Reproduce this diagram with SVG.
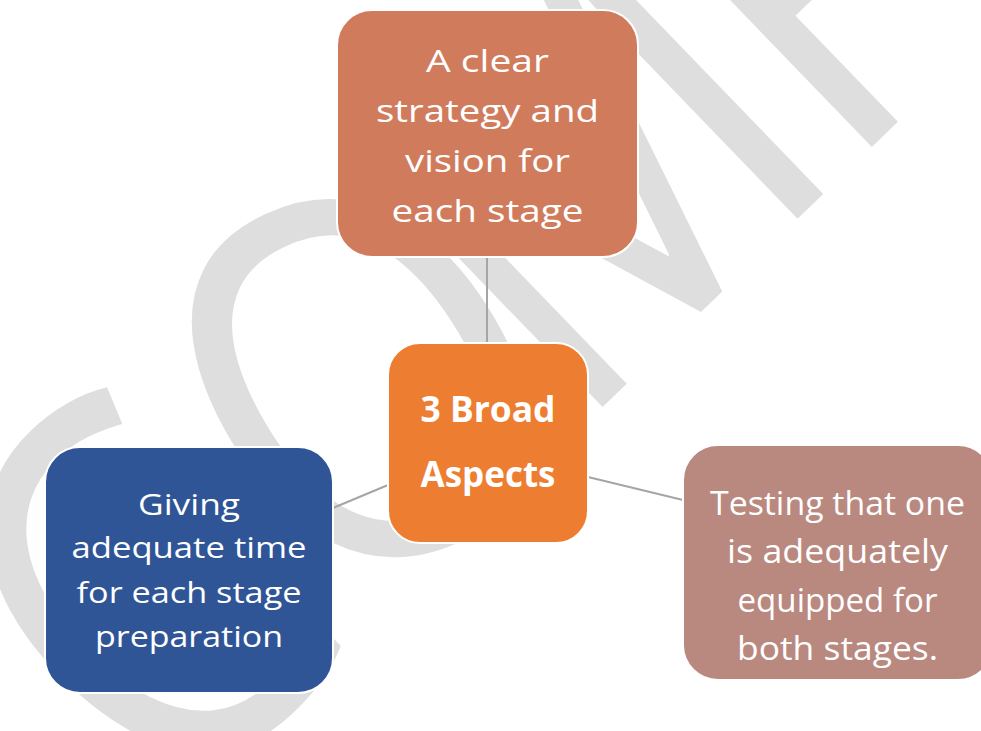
<svg xmlns="http://www.w3.org/2000/svg" width="981" height="731" viewBox="0 0 981 731">
<style>
.wm{font-family:"Open Sans","Noto Sans",sans-serif;font-size:525px;fill:#DEDEDE}
.box{stroke:#FFFFFF;stroke-width:2}
.t{font-family:"Open Sans","Noto Sans",sans-serif;fill:#FFFFFF;text-anchor:middle}
.t31{font-size:31px}
.t30{font-size:30px}
.t32{font-size:32px}
.tb{font-size:35px;font-weight:bold}
.conn line{stroke:#A5A5A5;stroke-width:2}
</style>
<rect width="981" height="731" fill="#FFFFFF"/>
<g id="watermark" transform="translate(615 395) rotate(-44) scale(0.83 1)">
<text class="wm" x="-583" y="0" text-anchor="middle">C</text>
<text class="wm" x="-205" y="0" text-anchor="middle" transform="rotate(16 -205 -188)">O</text>
<text class="wm" x="164" y="0" text-anchor="middle">M</text>
<text class="wm" x="379" y="0">P</text>
</g>
<g id="connectors" class="conn">
<line x1="487" y1="257" x2="487" y2="343"/>
<line x1="388" y1="485" x2="333" y2="508"/>
<line x1="588" y1="477" x2="683" y2="500"/>
</g>
<g id="node-strategy">
<rect class="box" x="337" y="10" width="301" height="247" rx="35" fill="#D17B5D"/>
<text class="t t31" x="487.5" y="71.7" textLength="123" lengthAdjust="spacingAndGlyphs">A clear</text>
<text class="t t31" x="487.5" y="121.7" textLength="223" lengthAdjust="spacingAndGlyphs">strategy and</text>
<text class="t t31" x="487.5" y="171.7" textLength="165" lengthAdjust="spacingAndGlyphs">vision for</text>
<text class="t t31" x="487.5" y="221.7" textLength="192" lengthAdjust="spacingAndGlyphs">each stage</text>
</g>
<g id="node-center">
<rect class="box" x="388" y="343" width="200" height="200" rx="32" fill="#ED7D31"/>
<text class="t tb" x="488" y="421.7" textLength="135" lengthAdjust="spacingAndGlyphs">3 Broad</text>
<text class="t tb" x="488" y="486.7" textLength="135" lengthAdjust="spacingAndGlyphs">Aspects</text>
</g>
<g id="node-time">
<rect class="box" x="45" y="447" width="288" height="246" rx="35" fill="#2F5597"/>
<text class="t t30" x="189" y="515" textLength="102" lengthAdjust="spacingAndGlyphs">Giving</text>
<text class="t t30" x="189" y="558.3" textLength="235" lengthAdjust="spacingAndGlyphs">adequate time</text>
<text class="t t30" x="189" y="603.3" textLength="225" lengthAdjust="spacingAndGlyphs">for each stage</text>
<text class="t t30" x="189" y="646.7" textLength="188" lengthAdjust="spacingAndGlyphs">preparation</text>
</g>
<g id="node-testing">
<rect class="box" x="683" y="445" width="310" height="235" rx="35" fill="#B9887F"/>
<text class="t t32" x="837.5" y="515" textLength="255" lengthAdjust="spacingAndGlyphs">Testing that one</text>
<text class="t t32" x="837.5" y="563.3" textLength="221" lengthAdjust="spacingAndGlyphs">is adequately</text>
<text class="t t32" x="837.5" y="611.7" textLength="200" lengthAdjust="spacingAndGlyphs">equipped for</text>
<text class="t t32" x="837.5" y="660" textLength="201" lengthAdjust="spacingAndGlyphs">both stages.</text>
</g>
</svg>
